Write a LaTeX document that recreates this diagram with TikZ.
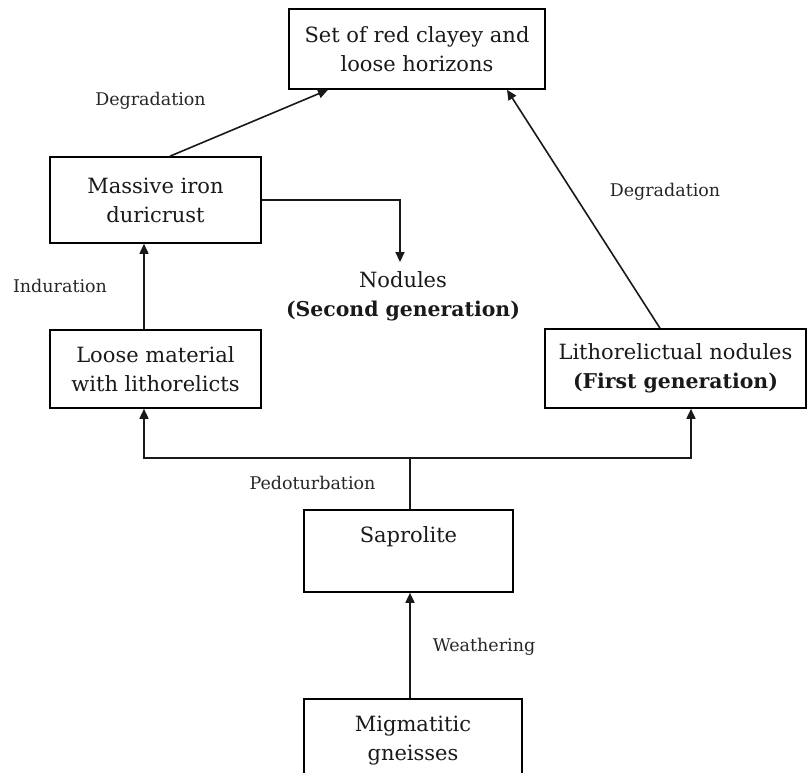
\documentclass[tikz,border=0pt]{standalone}
\usepackage{fontspec}
\setmainfont{DejaVu Serif}
\usetikzlibrary{arrows.meta}
\newcommand{\boldgen}[1]{{\fontsize{20.4}{29}\selectfont\textbf{#1}}}
\begin{document}
\begin{tikzpicture}[x=1pt,y=-1pt,
  box/.style={draw, line width=1.6pt, rectangle, inner sep=0pt, align=center,
    font=\fontsize{21}{29}\selectfont, text=black!90},
  plain/.style={inner sep=0pt, align=center, font=\fontsize{21}{29}\selectfont, text=black!90},
  lbl/.style={inner sep=0pt, font=\fontsize{17.5}{21}\selectfont, text=black!85},
  conn/.style={line width=1.6pt, black!90},
  arr/.style={line width=1.6pt, black!90, -{Triangle[length=10pt,width=9pt]}}]
\useasboundingbox (0,0) rectangle (807,773);
\clip (0,0) rectangle (807,773);
% boxes
\node[box, minimum width=256pt, minimum height=80pt] (top) at (417,49) {Set of red clayey and\\loose horizons};
\node[box, minimum width=211pt, minimum height=86pt] (mass) at (155.5,200) {Massive iron\\duricrust};
\node[box, minimum width=211pt, minimum height=78pt] (loose) at (155.5,369) {Loose material\\with lithorelicts};
\node[box, minimum width=261pt, minimum height=79pt] (litho) at (675.5,368.5) {Lithorelictual nodules\\\boldgen{(First generation)}};
\node[box, minimum width=209pt, minimum height=82pt] (sap) at (408.5,551) {};
\node[plain] (saptext) at (408.5,537) {Saprolite};
\node[box, minimum width=218pt, minimum height=92pt] (mig) at (413,745) {};
\node[plain] (migtext) at (413,741) {Migmatitic\\gneisses};
\node[plain] (nod) at (403,296) {Nodules\\\boldgen{(Second generation)}};
% labels
\node[lbl] (l1) at (150.5,101) {Degradation};
\node[lbl] (l2) at (60,286) {Induration};
\node[lbl] (l3) at (665,192) {Degradation};
\node[lbl] (l4) at (312.5,483) {Pedoturbation};
\node[lbl] (l5) at (484,647) {Weathering};
% connectors
\draw[arr] ([xshift=14.5pt]mass.north) -- ([xshift=-89pt]top.south);
\draw[arr] ([xshift=-15.5pt]litho.north) -- ([xshift=90pt]top.south);
\coordinate (nodtop) at ([xshift=-3pt,yshift=9pt]nod.north);
\draw[arr] (mass.east) -| (nodtop);
\draw[arr] ([xshift=-11.5pt]loose.north) -- ([xshift=-11.5pt]mass.south);
\coordinate (jn) at ([xshift=1.5pt,yshift=51pt]sap.north);
\draw[conn] ([xshift=1.5pt]sap.north) -- (jn);
\draw[arr] (jn) -| ([xshift=-11.5pt]loose.south);
\draw[arr] (jn) -| ([xshift=15.5pt]litho.south);
\draw[arr] ([xshift=-3pt]mig.north) -- ([xshift=1.5pt]sap.south);
\end{tikzpicture}
\end{document}
